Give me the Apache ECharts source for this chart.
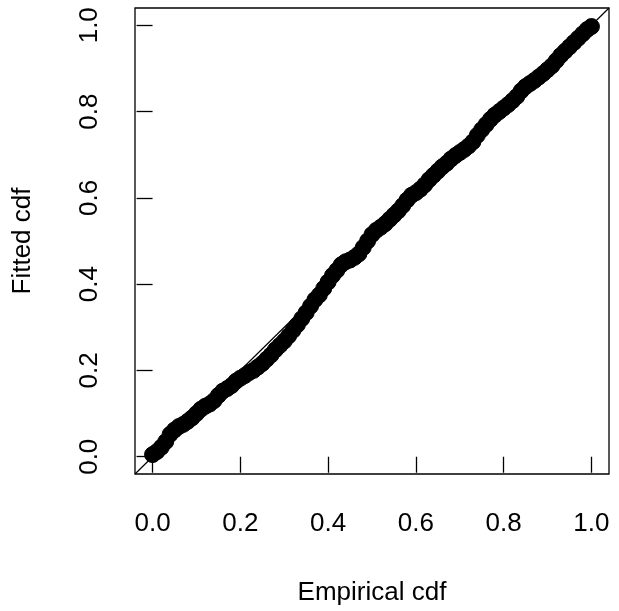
<!DOCTYPE html>
<html>
<head>
<meta charset="utf-8">
<script src="https://cdn.jsdelivr.net/npm/echarts@6/dist/echarts.min.js"></script>
<style>html,body{margin:0;padding:0;background:#fff}#c{width:619px;height:611px}</style>
</head>
<body>
<div id="c"></div>
<script>
// Empirical cdf (x) and fitted cdf (y)
const empirical = [
  0.000,0.010,0.020,0.030,0.040,0.050,0.060,0.070,0.080,0.090,
  0.100,0.110,0.120,0.130,0.140,0.150,0.160,0.170,0.180,0.190,
  0.200,0.210,0.220,0.230,0.240,0.250,0.260,0.270,0.280,0.290,
  0.300,0.310,0.320,0.330,0.340,0.350,0.360,0.370,0.380,0.390,
  0.400,0.410,0.420,0.430,0.440,0.450,0.460,0.470,0.480,0.490,
  0.500,0.510,0.520,0.530,0.540,0.550,0.560,0.570,0.580,0.590,
  0.600,0.610,0.620,0.630,0.640,0.650,0.660,0.670,0.680,0.690,
  0.700,0.710,0.720,0.730,0.740,0.750,0.760,0.770,0.780,0.790,
  0.800,0.810,0.820,0.830,0.840,0.850,0.860,0.870,0.880,0.890,
  0.900,0.910,0.920,0.930,0.940,0.950,0.960,0.970,0.980,0.990,1.000
];
const fitted = [
  0.005,0.012,0.022,0.035,0.052,0.062,0.070,0.075,0.082,0.090,
  0.100,0.110,0.117,0.122,0.130,0.142,0.152,0.158,0.165,0.175,
  0.182,0.188,0.195,0.200,0.208,0.216,0.226,0.236,0.248,0.258,
  0.268,0.280,0.293,0.306,0.320,0.334,0.349,0.364,0.375,0.390,
  0.405,0.420,0.432,0.445,0.452,0.456,0.462,0.470,0.485,0.500,
  0.515,0.525,0.532,0.540,0.550,0.560,0.570,0.582,0.595,0.606,
  0.612,0.620,0.630,0.642,0.652,0.662,0.672,0.680,0.690,0.698,
  0.705,0.712,0.720,0.730,0.745,0.758,0.770,0.782,0.792,0.800,
  0.808,0.816,0.825,0.835,0.848,0.858,0.865,0.872,0.880,0.888,
  0.897,0.906,0.918,0.930,0.940,0.950,0.960,0.970,0.980,0.990,0.997
];
const tickValues = [0, 0.2, 0.4, 0.6, 0.8, 1.0];
const tickLabels = ['0.0', '0.2', '0.4', '0.6', '0.8', '1.0'];
const axisMin = -0.04, axisMax = 1.04;
const diagonal = [[axisMin, axisMin], [axisMax, axisMax]];

const points = empirical.map((x, i) => [x, fitted[i]]);
const FONT = 'Liberation Sans, Arial, sans-serif';
const lblFmt = v => {
  const i = tickValues.findIndex(t => Math.abs(t - v) < 1e-9);
  return i >= 0 ? tickLabels[i] : '';
};

const chart = echarts.init(document.getElementById('c'), null, {renderer: 'canvas'});
chart.setOption({
  animation: false,
  backgroundColor: '#ffffff',
  grid: {left: 135, right: 10, top: 8, bottom: 130, show: true, borderColor: '#000', borderWidth: 1.3, backgroundColor: 'transparent'},
  xAxis: {
    type: 'value', min: axisMin, max: axisMax,
    name: 'Empirical cdf', nameLocation: 'middle', nameGap: 106,
    nameTextStyle: {color: '#000', fontSize: 26, fontFamily: FONT},
    axisLine: {show: false},
    splitLine: {show: false},
    axisTick: {show: true, inside: false, length: 16, customValues: tickValues, lineStyle: {color: '#000', width: 1.3}},
    axisLabel: {show: true, margin: 37, customValues: tickValues, formatter: lblFmt, color: '#000', fontSize: 26, fontFamily: FONT}
  },
  yAxis: {
    type: 'value', min: axisMin, max: axisMax,
    name: 'Fitted cdf', nameLocation: 'middle', nameGap: 99,
    nameTextStyle: {color: '#000', fontSize: 26, fontFamily: FONT},
    axisLine: {show: false},
    splitLine: {show: false},
    axisTick: {show: true, inside: false, length: 16, customValues: tickValues, lineStyle: {color: '#000', width: 1.3}},
    axisLabel: {show: true, rotate: 90, margin: 32, customValues: tickValues, formatter: lblFmt, color: '#000', fontSize: 26, fontFamily: FONT}
  },
  series: [
    {
      type: 'line', data: diagonal, symbol: 'none', z: 1,
      lineStyle: {color: '#000', width: 1.2}, silent: true
    },
    {
      type: 'scatter', data: points, symbol: 'circle', symbolSize: 16, z: 2,
      itemStyle: {color: '#000', borderColor: '#000', borderWidth: 1, opacity: 1}
    }
  ]
});
</script>
</body>
</html>
